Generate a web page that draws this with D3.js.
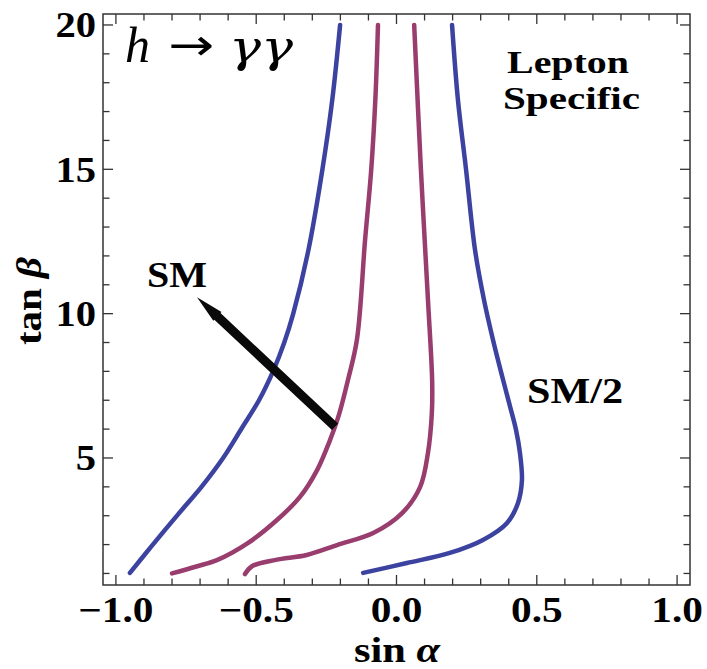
<!DOCTYPE html>
<html>
<head>
<meta charset="utf-8">
<script src="https://cdn.jsdelivr.net/npm/d3@7"></script>
<style>
  body { margin: 0; background: #fff; }
  svg { display: block; }
  text { font-family: "Liberation Serif", "Times New Roman", serif; fill: #000; }
</style>
</head>
<body>
<svg width="707" height="669"></svg>
<script>
// curvas [sin a, tan b]
const blueLeft = [[-0.95,1.02],[-0.875,1.92],[-0.78,3.03],[-0.695,4.0],[-0.618,5.0],[-0.551,6.04],
  [-0.49,7.0],[-0.44,8.0],[-0.40,9.0],[-0.368,10.0],[-0.314,12.2],[-0.264,15],[-0.229,17.4],[-0.201,20]];
const magentaLeft = [[-0.80,1.0],[-0.71,1.25],[-0.64,1.46],[-0.53,2.05],[-0.426,2.85],[-0.344,3.65],
  [-0.283,4.58],[-0.237,5.62],[-0.205,6.5],[-0.173,7.7],[-0.141,9.1],[-0.112,12.55],[-0.09,15],[-0.075,17.5],[-0.066,20]];
const magentaRight = [[-0.54,0.98],[-0.515,1.25],[-0.43,1.47],[-0.32,1.64],[-0.21,1.99],[-0.083,2.4],
  [0.02,3.09],[0.084,3.99],[0.112,5.17],[0.126,6.56],[0.127,7.7],[0.112,10.5],[0.087,15],[0.063,20]];
const blueRight = [[-0.119,1.02],[0.037,1.36],[0.19,1.71],[0.308,2.16],[0.394,2.75],[0.433,3.44],
  [0.447,4.23],[0.44,5.17],[0.426,5.97],[0.405,6.77],[0.38,7.7],[0.344,9.09],[0.312,10.47],[0.28,12.2],
  [0.248,14.98],[0.219,17.4],[0.198,20]];

const arrowFrom = [-0.219, 6.08]; // cola de la flecha (sobre la curva)
const arrowTo = [-0.711, 10.57];  // punta

const xTicksMajor = [-1.0, -0.5, 0.0, 0.5, 1.0];
const xTickLabels = ['\u22121.0', '\u22120.5', '0.0', '0.5', '1.0'];
const yTicksMajor = [5, 10, 15, 20];
const yTickLabels = ['5', '10', '15', '20'];

const svg = d3.select('svg');
const blue = '#3c42a0';
const magenta = '#983d6e';

//ESCALAS
const x = d3.scaleLinear().domain([-1.046, 1.046]).range([103, 690]);
const y = d3.scaleLinear().domain([0.6, 20.38]).range([585, 14]);

//MARCO
svg.append('rect')
  .attr('x', x.range()[0]).attr('y', y.range()[1])
  .attr('width', x.range()[1] - x.range()[0])
  .attr('height', y.range()[0] - y.range()[1])
  .attr('fill', 'none').attr('stroke', '#333').attr('stroke-width', 1.5);

// ticks hacia dentro en los cuatro lados
const xMinor = d3.range(-10, 11).map(d => d / 10);
const yMinor = d3.range(1, 21);
const isMajX = d => Math.abs(d * 2 - Math.round(d * 2)) < 1e-6;
const isMajY = d => d % 5 === 0;
const g_ticks = svg.append('g').attr('stroke', '#333').attr('stroke-width', 1.3);
[y.range()[0], y.range()[1]].forEach((y0, k) => {
  g_ticks.selectAll(null).data(xMinor).enter().append('line')
    .attr('x1', d => x(d)).attr('x2', d => x(d))
    .attr('y1', y0)
    .attr('y2', d => y0 + (k === 0 ? -1 : 1) * (isMajX(d) ? 10 : 6.5));
});
[x.range()[0], x.range()[1]].forEach((x0, k) => {
  g_ticks.selectAll(null).data(yMinor).enter().append('line')
    .attr('y1', d => y(d)).attr('y2', d => y(d))
    .attr('x1', x0)
    .attr('x2', d => x0 + (k === 0 ? 1 : -1) * (isMajY(d) ? 10 : 6.5));
});

// etiquetas de los ticks
svg.append('g').selectAll('g').data(xTicksMajor).enter().append('g')
  .attr('transform', d => `translate(${x(d)},622) scale(1.18,1)`)
  .append('text')
  .attr('text-anchor', 'middle')
  .attr('font-size', 35).attr('font-weight', 'bold')
  .text((d, i) => xTickLabels[i]);

svg.append('g').selectAll('g').data(yTicksMajor).enter().append('g')
  .attr('transform', d => `translate(96,${y(d) + 12.5}) scale(1.16,1)`)
  .append('text')
  .attr('text-anchor', 'end')
  .attr('font-size', 35).attr('font-weight', 'bold')
  .text((d, i) => yTickLabels[i]);

//CURVAS
const line = d3.line().x(d => x(d[0])).y(d => y(d[1])).curve(d3.curveCatmullRom.alpha(0.5));
const g_lines = svg.append('g').attr('fill', 'none').attr('stroke-width', 4.5).attr('stroke-linecap', 'round');
[[blueLeft, blue], [magentaLeft, magenta], [magentaRight, magenta], [blueRight, blue]].forEach(([data, c]) => {
  g_lines.append('path').datum(data).attr('d', line).attr('stroke', c);
});

//FLECHA
const [ax0, ay0] = [x(arrowFrom[0]), y(arrowFrom[1])];
const [ax1, ay1] = [x(arrowTo[0]), y(arrowTo[1])];
const ang = Math.atan2(ay1 - ay0, ax1 - ax0);
const len = Math.hypot(ax1 - ax0, ay1 - ay0);
const g_arrow = svg.append('g').attr('transform', `translate(${ax0},${ay0}) rotate(${ang * 180 / Math.PI})`);
g_arrow.append('path')
  .attr('d', `M0,-4.5 L${len - 28},-4.5 L${len - 28},-6 L${len},0 L${len - 28},6 L${len - 28},4.5 L0,4.5 Z`)
  .attr('fill', '#0a0a0a');

//TEXTOS
svg.append('text').attr('x', 125).attr('y', 62).attr('font-size', 50).attr('font-style', 'italic').text('h');
svg.append('text').attr('x', 168).attr('y', 60).attr('font-size', 44)
  .style('font-family', '"DejaVu Sans", sans-serif')
  .attr('textLength', 46).attr('lengthAdjust', 'spacingAndGlyphs').text('\u2192');
svg.append('text').attr('x', 229).attr('y', 62).attr('font-size', 44).attr('font-style', 'italic')
  .style('font-family', '"DejaVu Serif", serif')
  .attr('textLength', 64).attr('lengthAdjust', 'spacingAndGlyphs').text('\u03b3\u03b3');

// "Lepton Specific" en dos lineas
svg.append('text').attr('x', 507).attr('y', 73).attr('font-size', 32).attr('font-weight', 'bold')
  .attr('textLength', 122).attr('lengthAdjust', 'spacingAndGlyphs').text('Lepton');
svg.append('text').attr('x', 503).attr('y', 109).attr('font-size', 32).attr('font-weight', 'bold')
  .attr('textLength', 137).attr('lengthAdjust', 'spacingAndGlyphs').text('Specific');

svg.append('text').attr('x', 147).attr('y', 287).attr('font-size', 35).attr('font-weight', 'bold')
  .attr('textLength', 60).attr('lengthAdjust', 'spacingAndGlyphs').text('SM');
svg.append('text').attr('x', 527).attr('y', 403).attr('font-size', 35).attr('font-weight', 'bold')
  .attr('textLength', 96).attr('lengthAdjust', 'spacingAndGlyphs').text('SM/2');

// titulos de ejes
const xt = svg.append('text').attr('x', 354).attr('y', 662).attr('font-size', 35)
  .attr('textLength', 86).attr('lengthAdjust', 'spacingAndGlyphs');
xt.append('tspan').attr('font-weight', 'bold').text('sin ');
xt.append('tspan').attr('font-style', 'italic').attr('font-weight', 'bold').text('\u03b1');

const yt = svg.append('text').attr('transform', 'translate(41,345) rotate(-90)').attr('font-size', 35)
  .attr('textLength', 88).attr('lengthAdjust', 'spacingAndGlyphs');
yt.append('tspan').attr('font-weight', 'bold').text('tan ');
yt.append('tspan').attr('font-style', 'italic').attr('font-weight', 'bold').text('\u03b2');
</script>
</body>
</html>
